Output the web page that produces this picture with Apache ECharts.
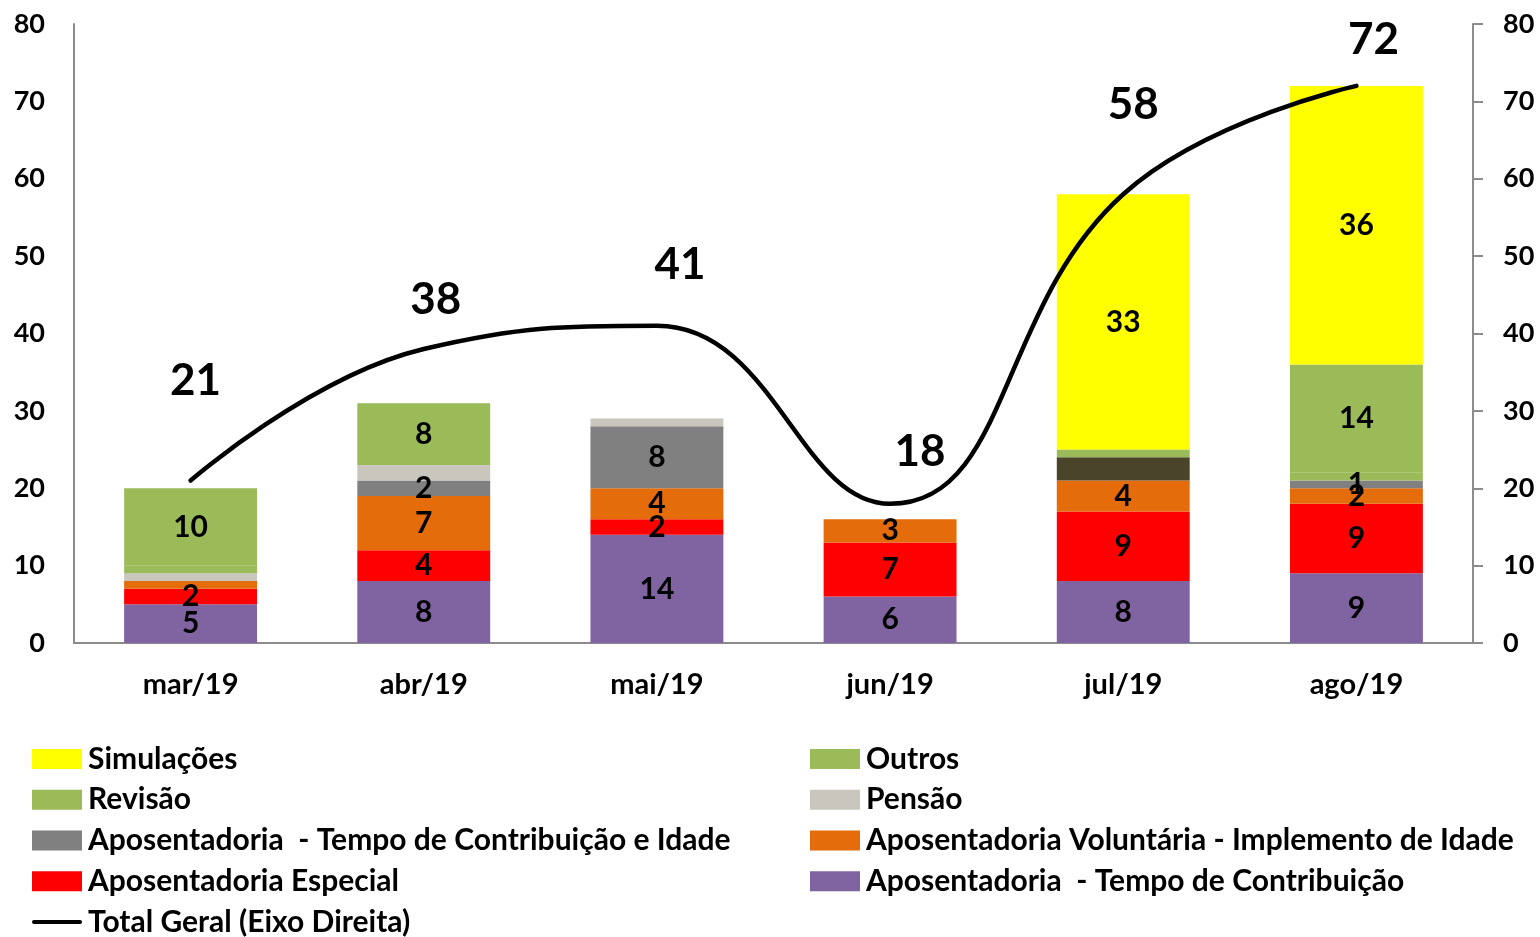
<!DOCTYPE html>
<html>
<head>
<meta charset="utf-8">
<script src="https://cdn.jsdelivr.net/npm/echarts@6/dist/echarts.min.js"></script>
<style>
    html, body { margin: 0; padding: 0; background: #fff; }
    #chart { width: 1540px; height: 937px; }
</style>
</head>
<body>
<div id="chart"></div>
<script>
const months = ['mar/19', 'abr/19', 'mai/19', 'jun/19', 'jul/19', 'ago/19'];
const axisTicks = [0, 10, 20, 30, 40, 50, 60, 70, 80];

// stacked series, bottom to top
const aposTempo = [5, 8, 14, 6, 8, 9];
const aposEspecial = [2, 4, 2, 7, 9, 9];
const aposVoluntaria = [1, 7, 4, 3, 4, 2];
const aposTempoIdade = [0, 2, 8, 0, 0, 1];
const semLegenda = [0, 0, 0, 0, 3, 0];
const pensao = [1, 2, 1, 0, 0, 0];
const revisao = [1, 0, 0, 0, 1, 1];
const outros = [10, 8, 0, 0, 0, 14];
const simulacoes = [0, 0, 0, 0, 33, 36];
const totalGeral = [21, 38, 41, 18, 58, 72];

// hand placed labels of the total line (style only)
const totalLabelOffsets = [[5, -72], [12, -22], [23, -33], [30, -24], [10, -62], [17, -19]];
// the reference leaves this one segment unlabelled
const hiddenLabels = { 'Aposentadoria Voluntária - Implemento de Idade': [0] };

const FONT = 'Lato';
const chart = echarts.init(document.getElementById('chart'));

function bar_item(name, values, color, showLabel) {
    const hidden = hiddenLabels[name] || [];
    return {
        type: 'bar',
        name: name,
        stack: 'total',
        barWidth: '57%',
        data: values,
        itemStyle: { color: color },
        label: {
            show: showLabel,
            position: 'inside',
            color: '#000',
            fontFamily: FONT,
            fontWeight: 'bold',
            fontSize: 30,
            formatter: p => (p.value && hidden.indexOf(p.dataIndex) < 0 ? p.value : '')
        },
        emphasis: { disabled: true }
    };
}

const legendText = { fontFamily: FONT, fontWeight: 'bold', fontSize: 30, lineHeight: 30, color: '#000', padding: [0, 0, 0, 1] };
const lineIcon = 'path://M2,0 L48,0 A2,2 0 0 1 48,4 L2,4 A2,2 0 0 1 2,0 Z';

const option = {
    animation: false,
    grid: { left: 74, right: 67, top: 24, bottom: 294 },
    legend: [
        {
            orient: 'vertical', left: 32, top: 744, height: 200, padding: 0,
            icon: 'rect', itemWidth: 50, itemHeight: 20, itemGap: 10.75,
            textStyle: legendText,
            data: ['Simulações', 'Revisão', 'Aposentadoria  - Tempo de Contribuição e Idade', 'Aposentadoria Especial',
                { name: 'Total Geral (Eixo Direita)', icon: lineIcon }]
        },
        {
            orient: 'vertical', left: 810, top: 744, height: 200, padding: 0,
            icon: 'rect', itemWidth: 50, itemHeight: 20, itemGap: 10.75,
            textStyle: legendText,
            data: ['Outros', 'Pensão', 'Aposentadoria Voluntária - Implemento de Idade', 'Aposentadoria  - Tempo de Contribuição']
        }
    ],
    xAxis: {
        type: 'category',
        data: months,
        axisLine: { lineStyle: { color: '#8c8c8c', width: 2 } },
        axisTick: { show: false },
        axisLabel: { margin: 27, color: '#000', fontFamily: FONT, fontWeight: 'bold', fontSize: 29 }
    },
    yAxis: [
        {
            type: 'value', min: axisTicks[0], max: axisTicks[axisTicks.length - 1], interval: 10,
            splitLine: { show: false },
            axisLine: { show: true, lineStyle: { color: '#8c8c8c', width: 2 } },
            axisTick: { show: false },
            axisLabel: { margin: 29, color: '#000', fontFamily: FONT, fontWeight: 'bold', fontSize: 27 }
        },
        {
            type: 'value', position: 'right', min: axisTicks[0], max: axisTicks[axisTicks.length - 1], interval: 10,
            splitLine: { show: false },
            axisLine: { show: true, lineStyle: { color: '#8c8c8c', width: 2 } },
            axisTick: { show: true, length: 10, lineStyle: { color: '#8c8c8c', width: 2 } },
            axisLabel: { margin: 30, color: '#000', fontFamily: FONT, fontWeight: 'bold', fontSize: 27 }
        }
    ],
    series: [
        bar_item('Aposentadoria  - Tempo de Contribuição', aposTempo, '#8064A2', true),
        bar_item('Aposentadoria Especial', aposEspecial, '#FF0000', true),
        bar_item('Aposentadoria Voluntária - Implemento de Idade', aposVoluntaria, '#E46C0A', true),
        bar_item('Aposentadoria  - Tempo de Contribuição e Idade', aposTempoIdade, '#808080', true),
        bar_item('Outras', semLegenda, '#4A452A', false),
        bar_item('Pensão', pensao, '#C9C6BE', false),
        bar_item('Revisão', revisao, '#9BBB59', false),
        bar_item('Outros', outros, '#9BBB59', true),
        bar_item('Simulações', simulacoes, '#FFFF00', true),
        {
            type: 'line',
            name: 'Total Geral (Eixo Direita)',
            yAxisIndex: 1,
            smooth: 0.45,
            symbol: 'circle',
            symbolSize: 1,
            showSymbol: true,
            z: 10,
            lineStyle: { color: '#000', width: 4.5, cap: 'round' },
            itemStyle: { color: '#000' },
            data: totalGeral.map((v, i) => ({
                value: v,
                label: {
                    show: true,
                    position: 'top',
                    offset: totalLabelOffsets[i],
                    color: '#000',
                    fontFamily: FONT,
                    fontWeight: 'bold',
                    fontSize: 44
                }
            })),
            emphasis: { disabled: true }
        }
    ]
};

chart.setOption(option);
</script>
</body>
</html>
